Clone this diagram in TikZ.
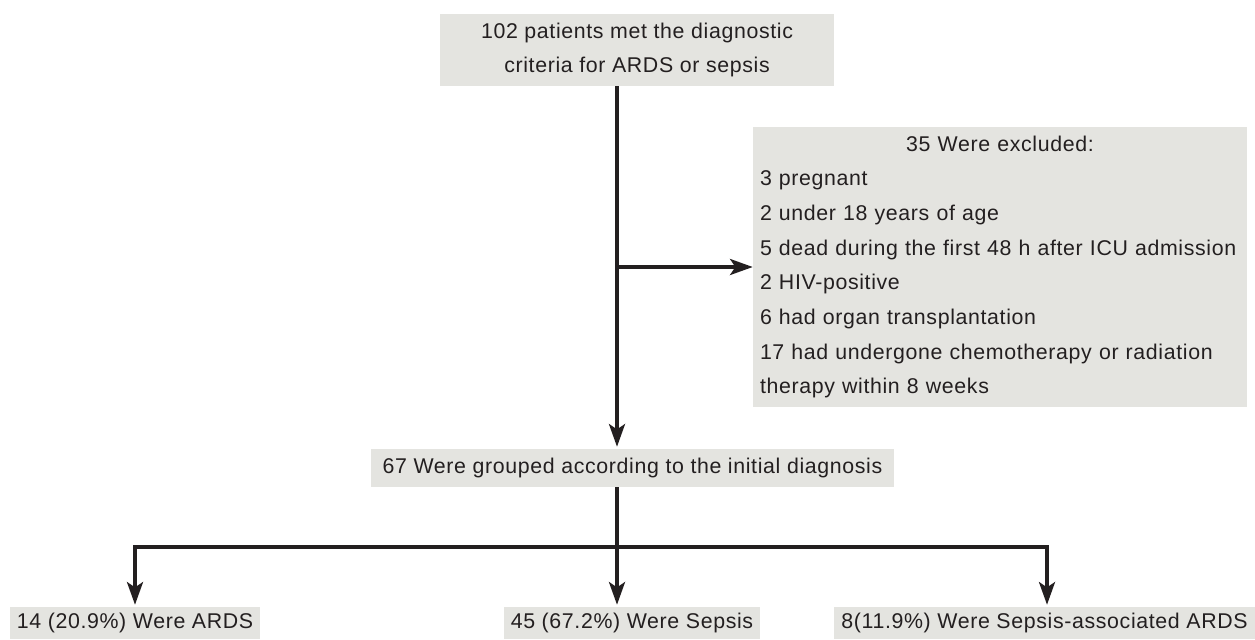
\documentclass[tikz,border=0pt]{standalone}
\usepackage{fontspec}
\setmainfont{Liberation Sans}[LetterSpace=3]
\usetikzlibrary{arrows.meta, positioning}
\definecolor{boxgray}{HTML}{E4E4E0}
\definecolor{ink}{HTML}{231F20}
\newlength{\pxu}\setlength{\pxu}{0.75pt}

\begin{document}
\begin{tikzpicture}[x=\pxu, y=-\pxu,
        every node/.style={font=\fontsize{16}{26}\selectfont, text=ink},
        box/.style={fill=boxgray, inner ysep=0pt, inner xsep=7\pxu, align=center},
        link/.style={draw=ink, line width=2.6pt, -{Stealth[length=17pt, width=12pt, inset=4pt]}},
        >=Stealth]
        \useasboundingbox (0,0) rectangle (1255,639);

        \node[box, minimum width=394\pxu, minimum height=72\pxu] (met) at (637,50)
            {102 patients met the diagnostic\\criteria for ARDS or sepsis};
        \node[box, text width=480\pxu, minimum height=280\pxu, align=left] (excl) at (1000,267)
            {{\centering 35 Were excluded:\par}
             3 pregnant\\
             2 under 18 years of age\\
             5 dead during the first 48 h after ICU admission\\
             2 HIV-positive\\
             6 had organ transplantation\\
             17 had undergone chemotherapy or radiation\\
             therapy within 8 weeks};
        \node[box, minimum width=523\pxu, minimum height=38\pxu] (grp) at (632.5,468)
            {67 Were grouped according to the initial diagnosis};
        \node[box, minimum width=250\pxu, minimum height=32\pxu] (ards) at (135,623)
            {14 (20.9\%) Were ARDS};
        \node[box, minimum width=256\pxu, minimum height=32\pxu] (sep) at (632,623)
            {45 (67.2\%) Were Sepsis};
        \node[box, minimum width=421\pxu, minimum height=32\pxu] (sards) at (1044.5,623)
            {8(11.9\%) Were Sepsis-associated ARDS};

        \coordinate (axis) at (617,0);
        \coordinate (split) at (617,547);

        \draw[link] (met.south -| axis) -- ([yshift=2\pxu]grp.north -| axis);
        \draw[link] (axis |- excl.west) -- (excl.west);
        \draw[draw=ink, line width=2.6pt] (grp.south -| axis) -- (split);
        \draw[link] (split) -- ([yshift=2\pxu]sep.north -| split);
        \draw[link] (split) -| ([yshift=2\pxu]ards.north);
        \draw[link] (split) -| ([yshift=2\pxu,xshift=2.5\pxu]sards.north);
\end{tikzpicture}
\end{document}
